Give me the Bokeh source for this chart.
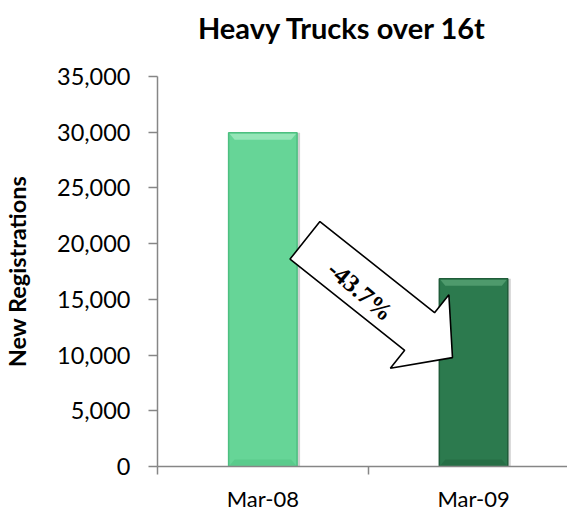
import math
from bokeh.plotting import figure
from bokeh.layouts import column
from bokeh.models import FixedTicker, NumeralTickFormatter, Range1d
from bokeh.core.properties import value
from bokeh.embed import file_html
from bokeh.resources import INLINE

# ---- data ----
categories = ["Mar-08", "Mar-09"]
registrations = [29950, 16860]
change_label = "-43.7%"
title_text = "Heavy Trucks over 16t"
y_title = "New Registrations"

# ---- layout ----
W = 567
TH = 50            # title strip height
H = 465            # main figure height
LEFT, RIGHT, TOP, BOTTOM = 157, 0, 26, 49
FRAME_W = W - LEFT - RIGHT
FRAME_H = H - TOP - BOTTOM
CAT_PX = 210.7
X_END = FRAME_W / CAT_PX
Y_MAX = 35000
px_x = FRAME_W / X_END
px_y = FRAME_H / Y_MAX

fill_cols = ["#66D597", "#2C7A4E"]
edge_cols = ["#4DBF80", "#1F5C39"]
top_cols = ["#95E6B8", "#4E9A6C"]
bot_cols = ["#58C889", "#256B43"]

xr = Range1d(0, X_END)

# ---- title strip (frame aligned with the chart below) ----
t = figure(width=W, height=TH, output_backend="svg", toolbar_location=None,
           x_range=xr, y_range=Range1d(0, TH),
           x_axis_location=None, y_axis_location=None,
           min_border=0, min_border_left=LEFT, min_border_right=RIGHT,
           min_border_top=0, min_border_bottom=0)
t.grid.visible = False
t.outline_line_color = None
TITLE_X = 0.878   # title centre, in category units
t.text(x=[TITLE_X], y=[TH - 27], text=[title_text], text_font=value("Lato"),
       text_font_style="bold", text_font_size="29px", text_align="center",
       text_baseline="middle", text_color="black")

# ---- main chart ----
p = figure(width=W, height=H, output_backend="svg", toolbar_location=None,
           x_range=xr, y_range=Range1d(0, Y_MAX),
           min_border_left=LEFT, min_border_right=RIGHT,
           min_border_top=TOP, min_border_bottom=BOTTOM)
p.outline_line_color = None
p.grid.visible = False

xs = [i + 0.5 for i in range(len(categories))]
bw = 0.325

# shadow
p.vbar(x=[x + 3 / px_x for x in xs], top=registrations, width=bw, bottom=0,
       fill_color="#000000", fill_alpha=0.18, line_color=None)
# bars
p.vbar(x=xs, top=registrations, width=bw, bottom=0,
       fill_color=fill_cols, line_color=edge_cols, line_width=1.5)

# bevel bands
bev_x = 6 / px_x
bev_y = 7 / px_y
tx, ty, bxs, bys = [], [], [], []
for x, v in zip(xs, registrations):
    l, r = x - bw / 2, x + bw / 2
    tx.append([l + 1 / px_x, r - 1 / px_x, r - bev_x, l + bev_x])
    ty.append([v - 1 / px_y, v - 1 / px_y, v - bev_y, v - bev_y])
    bxs.append([l + 1 / px_x, r - 1 / px_x, r - bev_x, l + bev_x])
    bys.append([1 / px_y, 1 / px_y, bev_y, bev_y])
p.patches(tx, ty, fill_color=top_cols, line_color=None)
p.patches(bxs, bys, fill_color=bot_cols, line_color=None, fill_alpha=0.8)

# arrow (annotation anchored between bars)
ARROW_TAIL = (0.70, 20300)
ARROW_TIP = (1.40, 9770)
def to_px(pt):
    return (pt[0] * px_x, pt[1] * px_y)
def to_data(pt):
    return (pt[0] / px_x, pt[1] / px_y)
tpx, hpx = to_px(ARROW_TAIL), to_px(ARROW_TIP)
dx, dy = hpx[0] - tpx[0], hpx[1] - tpx[1]
L = math.hypot(dx, dy)
ux, uy = dx / L, dy / L
nx, ny = -uy, ux
sw, hw, hl = 24, 47, 42
bx, by = hpx[0] - ux * hl, hpx[1] - uy * hl
poly = [
    (tpx[0] + nx * sw, tpx[1] + ny * sw),
    (bx + nx * sw, by + ny * sw),
    (bx + nx * hw, by + ny * hw),
    hpx,
    (bx - nx * hw, by - ny * hw),
    (bx - nx * sw, by - ny * sw),
    (tpx[0] - nx * sw, tpx[1] - ny * sw),
]
dpoly = [to_data(q) for q in poly]
p.patch([q[0] for q in dpoly], [q[1] for q in dpoly], fill_color="white",
        line_color="black", line_width=1.6)
tpos = to_data((tpx[0] + ux * 75 - nx * 5, tpx[1] + uy * 75 - ny * 5))
ang = math.atan2(uy, ux) - math.radians(2)
p.text(x=[tpos[0]], y=[tpos[1]], text=[change_label], angle=ang,
       text_font=value("Liberation Serif, serif"),
       text_font_style="bold",
       text_font_size="25px", text_align="center", text_baseline="middle",
       text_color="black")

# axes
AX_COL = "#868686"
p.xaxis.ticker = FixedTicker(ticks=xs, minor_ticks=[0, 1, 2])
p.xaxis.major_label_overrides = {x: c for x, c in zip(xs, categories)}
p.xaxis.major_tick_line_color = None
p.xaxis.major_tick_out = 0
p.xaxis.major_tick_in = 0
p.xaxis.minor_tick_out = 8
p.xaxis.minor_tick_in = 0
p.xaxis.minor_tick_line_color = AX_COL
p.xaxis.minor_tick_line_width = 1.5
p.xaxis.axis_line_color = AX_COL
p.xaxis.axis_line_width = 1.5
p.xaxis.major_label_text_font = "Lato"
p.xaxis.major_label_text_font_size = "22px"
p.xaxis.major_label_text_color = "black"
p.xaxis.major_label_standoff = 10

p.yaxis.ticker = FixedTicker(ticks=list(range(0, 35001, 5000)))
p.yaxis.formatter = NumeralTickFormatter(format="0,0")
p.yaxis.minor_tick_line_color = None
p.yaxis.major_tick_out = 9
p.yaxis.major_tick_in = 0
p.yaxis.major_tick_line_color = AX_COL
p.yaxis.major_tick_line_width = 1.5
p.yaxis.axis_line_color = AX_COL
p.yaxis.axis_line_width = 1.5
p.yaxis.major_label_text_font = "Lato"
p.yaxis.major_label_text_font_size = "23.5px"
p.yaxis.major_label_text_color = "black"
p.yaxis.major_label_standoff = 18
p.yaxis.axis_label = y_title
p.yaxis.axis_label_text_font = "Lato"
p.yaxis.axis_label_text_font_style = "bold"
p.yaxis.axis_label_text_font_size = "23.5px"
p.yaxis.axis_label_text_color = "black"
p.yaxis.axis_label_standoff = 23

layout = column(t, p, spacing=0)
open("out.html", "w").write(file_html(layout, INLINE))
